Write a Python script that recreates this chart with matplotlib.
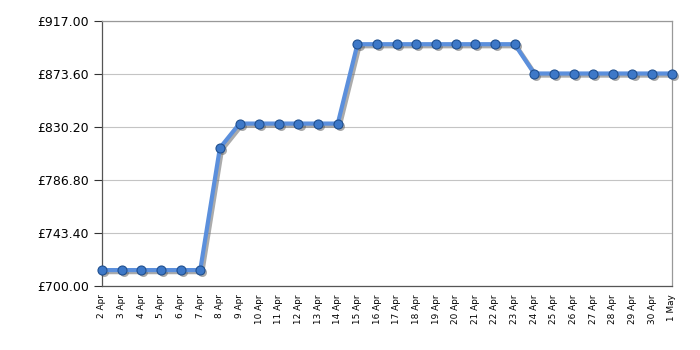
import matplotlib
matplotlib.use("Agg")
import matplotlib.pyplot as plt
import matplotlib.patheffects as pe
import matplotlib.transforms as mtransforms
import numpy as np

dates = ["2 Apr", "3 Apr", "4 Apr", "5 Apr", "6 Apr", "7 Apr", "8 Apr", "9 Apr",
         "10 Apr", "11 Apr", "12 Apr", "13 Apr", "14 Apr", "15 Apr", "16 Apr",
         "17 Apr", "18 Apr", "19 Apr", "20 Apr", "21 Apr", "22 Apr", "23 Apr",
         "24 Apr", "25 Apr", "26 Apr", "27 Apr", "28 Apr", "29 Apr", "30 Apr", "1 May"]
prices = [713.0, 713.0, 713.0, 713.0, 713.0, 713.0, 813.0, 833.0,
          833.0, 833.0, 833.0, 833.0, 833.0, 898.0, 898.0,
          898.0, 898.0, 898.0, 898.0, 898.0, 898.0, 898.0,
          874.0, 874.0, 874.0, 874.0, 874.0, 874.0, 874.0, 874.0]
yticks = [700.00, 743.40, 786.80, 830.20, 873.60, 917.00]

fig = plt.figure(figsize=(7, 3.5), dpi=100)
ax = fig.add_axes([0.1457, 0.183, 0.814, 0.757])

x = np.arange(len(dates))
shadow_tr = mtransforms.offset_copy(ax.transData, fig=fig, x=1.5, y=-1.5, units="points")
ax.plot(x, prices, color="#666666", lw=3, alpha=0.55, transform=shadow_tr, zorder=2,
        marker="o", ms=6.5, mec="none", clip_on=False)
ax.plot(x, prices, color="#5b8fdc", lw=3, zorder=3, clip_on=False)
ax.plot(x, prices, ls="none", marker="o", ms=6.5, mfc="#3d78c8", mec="#1f4f8f",
        mew=0.8, zorder=4, clip_on=False)

ax.set_xlim(0, len(dates) - 1)
ax.set_ylim(yticks[0], yticks[-1])
ax.set_yticks(yticks)
ax.set_yticklabels([f"£{v:.2f}" for v in yticks], fontsize=9, family="DejaVu Sans")

ax.set_xticks(x)
ax.set_xticklabels(dates, rotation=90, fontsize=6.4)
ax.tick_params(axis="x", which="major", length=0, pad=6)
minor = x[(len(dates) - 1 - x) % 3 == 0]
ax.set_xticks(minor, minor=True)
ax.tick_params(axis="x", which="minor", length=5, color="#333333", direction="out")
ax.tick_params(axis="y", length=6, color="#333333", direction="out")

ax.grid(True, which="minor", axis="x", color="#c4c4c4", lw=0.8)
ax.grid(True, which="major", axis="y", color="#c4c4c4", lw=0.8)
ax.set_axisbelow(True)
for s in ax.spines.values():
    s.set_color("#999999")
    s.set_linewidth(0.9)
ax.spines["left"].set_color("#555555")
ax.spines["bottom"].set_color("#555555")

fig.savefig("out.png", dpi=100)
